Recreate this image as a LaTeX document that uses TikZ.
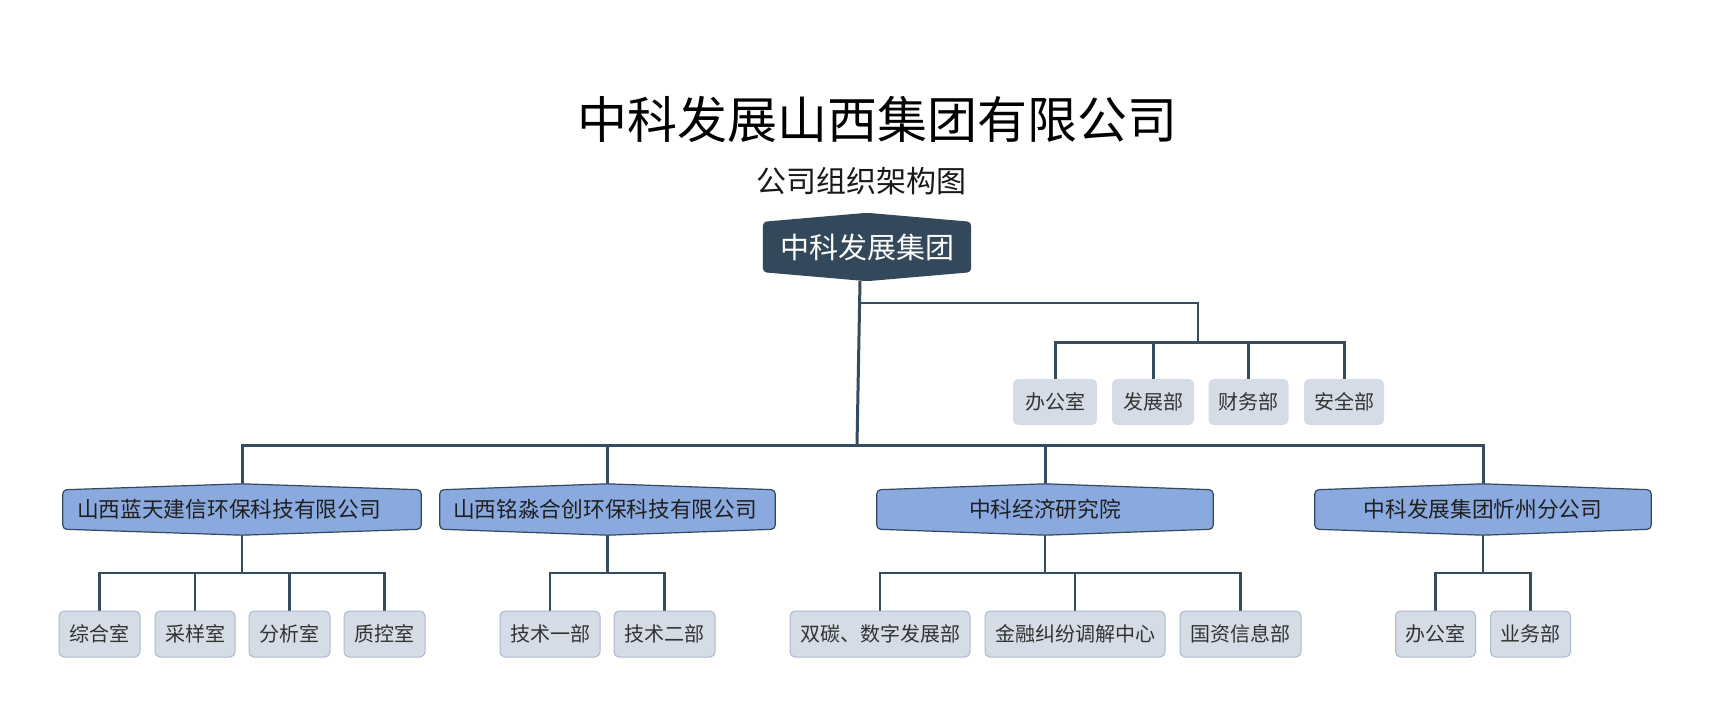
\documentclass[tikz,border=0pt]{standalone}
\usepackage{fontspec}
\setmainfont{Noto Sans CJK SC}
\usetikzlibrary{calc,backgrounds}
\definecolor{linec}{HTML}{364B5E}
\definecolor{rootfill}{HTML}{34485B}
\definecolor{lonefill}{HTML}{8AAADF}
\definecolor{loneborder}{HTML}{34495E}
\definecolor{leaffill}{HTML}{D6DCE6}
\definecolor{leafborder}{HTML}{AAB9CF}
\definecolor{leaftext}{HTML}{333333}
\newcommand\hexpath[3]{%
  \path[#3,rounded corners=4pt] (#1.north west) -- ($(#1.north)+(0pt,#2)$) -- (#1.north east) -- (#1.south east) -- ($(#1.south)+(0pt,-#2)$) -- (#1.south west) -- cycle;}
\begin{document}
\begin{tikzpicture}[x=1pt,y=-1pt,
  conn/.style={draw=linec,line width=2.5pt},
  mainbar/.style={draw=linec,line width=3pt},
  titletext/.style={font=\fontsize{50pt}{60pt}\selectfont,text=black,inner sep=0pt},
  subtext/.style={font=\fontsize{30pt}{36pt}\selectfont,text=black!90,inner sep=0pt},
  roottext/.style={font=\fontsize{29pt}{34pt}\selectfont,text=white,inner sep=0pt,minimum width=208pt,minimum height=50pt},
  lonetext/.style={font=\fontsize{21.7pt}{26pt}\selectfont,text=black!88,inner sep=0pt,minimum height=39pt},
  roothex/.style={fill=rootfill},
  lonehex/.style={fill=lonefill,draw=loneborder,line width=1.2pt},
  leaf/.style={fill=leaffill,draw=leafborder,line width=1pt,rounded corners=5pt,minimum height=46pt,inner xsep=10pt,inner ysep=0pt,font=\fontsize{20pt}{24pt}\selectfont,text=leaftext},
  leaftop/.style={leaf,draw=none}
]
\begin{scope}[on background layer]
\fill[white] (0,0) rectangle (1711,717);
\end{scope}
\useasboundingbox (0,0) rectangle (1711,717);

% titles
\node[titletext] (title) at (877,119) {中科发展山西集团有限公司};
\node[subtext] (subtitle) at (861,181) {公司组织架构图};

% root
\node[roottext] (root) at (867,247) {中科发展集团};

% top-right offices
\node[leaftop,minimum width=84pt] (o1) at (1055,402) {办公室};
\node[leaftop,minimum width=82pt] (o2) at (1153,402) {发展部};
\node[leaftop,minimum width=79pt] (o3) at (1248.5,402) {财务部};
\node[leaftop,minimum width=80pt] (o4) at (1344,402) {安全部};

% level one
\node[lonetext,minimum width=358pt] (c1) at (242,509.5) {山西蓝天建信环保科技有限公司\hspace*{26pt}};
\node[lonetext,minimum width=335pt] (c2) at (607.5,509.5) {山西铭淼合创环保科技有限公司\hspace*{5pt}};
\node[lonetext,minimum width=336pt] (c3) at (1045,509.5) {中科经济研究院};
\node[lonetext,minimum width=336pt] (c4) at (1483,509.5) {中科发展集团忻州分公司};

% leaves
\node[leaf,minimum width=81pt] (a1) at (99.5,634) {综合室};
\node[leaf,minimum width=80pt] (a2) at (195,634) {采样室};
\node[leaf,minimum width=81pt] (a3) at (289.5,634) {分析室};
\node[leaf,minimum width=81pt] (a4) at (384.5,634) {质控室};
\node[leaf,minimum width=100pt] (b1) at (550,634) {技术一部};
\node[leaf,minimum width=101pt] (b2) at (664.5,634) {技术二部};
\node[leaf,minimum width=180pt] (d1) at (880,634) {双碳、数字发展部};
\node[leaf,minimum width=180pt] (d2) at (1075,634) {金融纠纷调解中心};
\node[leaf,minimum width=121pt] (d3) at (1240.5,634) {国资信息部};
\node[leaf,minimum width=79pt] (e1) at (1435.5,634) {办公室};
\node[leaf,minimum width=79pt] (e2) at (1530.5,634) {业务部};

% junction coordinates
\coordinate (rootout) at (860,281);
\coordinate (bus) at (857,445);
\coordinate (brA) at (859.6,303);
\coordinate (brB) at (1198,303);
\coordinate (brC) at (1198,342);
\coordinate (sb) at (0,573);
\coordinate (c1t) at ($(c1.north)+(0pt,6pt)$);
\coordinate (c2t) at ($(c2.north)+(0pt,6pt)$);
\coordinate (c3t) at ($(c3.north)+(0pt,6pt)$);
\coordinate (c4t) at ($(c4.north)+(0pt,6pt)$);
\coordinate (c1b) at ($(c1.south)+(0pt,-6pt)$);
\coordinate (c2b) at ($(c2.south)+(0pt,-6pt)$);
\coordinate (c3b) at ($(c3.south)+(0pt,-6pt)$);
\coordinate (c4b) at ($(c4.south)+(0pt,-6pt)$);

\begin{scope}[on background layer]
% root trunk and right branch
\draw[mainbar] (rootout) -- (bus);
\draw[conn,line width=2pt] (brA) -- (brB) -- (brC);
\draw[mainbar] (o1.north) -- (o1.north |- brC) -- (o4.north |- brC) -- (o4.north);
\draw[mainbar] (o2.north) -- (o2.north |- brC);
\draw[mainbar] (o3.north) -- (o3.north |- brC);
% main bus
\draw[mainbar] (c1t) -- (c1t |- bus) -- (c4t |- bus) -- (c4t);
\draw[mainbar] (c2t) -- (c2t |- bus);
\draw[mainbar] (c3t) -- (c3t |- bus);
% group 1
\draw[conn] (c1b) -- (c1b |- sb);
\draw[conn] (a1.north) -- (a1.north |- sb) -- (a4.north |- sb) -- (a4.north);
\draw[conn] (a2.north) -- (a2.north |- sb);
\draw[conn] (a3.north) -- (a3.north |- sb);
% group 2
\draw[conn] (c2b) -- (c2b |- sb);
\draw[conn] (b1.north) -- (b1.north |- sb) -- (b2.north |- sb) -- (b2.north);
% group 3
\draw[conn] (c3b) -- (c3b |- sb);
\draw[conn] (d1.north) -- (d1.north |- sb) -- (d3.north |- sb) -- (d3.north);
\draw[conn] (d2.north) -- (d2.north |- sb);
% group 4
\draw[conn] (c4b) -- (c4b |- sb);
\draw[conn] (e1.north) -- (e1.north |- sb) -- (e2.north |- sb) -- (e2.north);
% shapes
\hexpath{root}{9pt}{roothex}
\hexpath{c1}{6pt}{lonehex}
\hexpath{c2}{6pt}{lonehex}
\hexpath{c3}{6pt}{lonehex}
\hexpath{c4}{6pt}{lonehex}
\end{scope}
\end{tikzpicture}
\end{document}
